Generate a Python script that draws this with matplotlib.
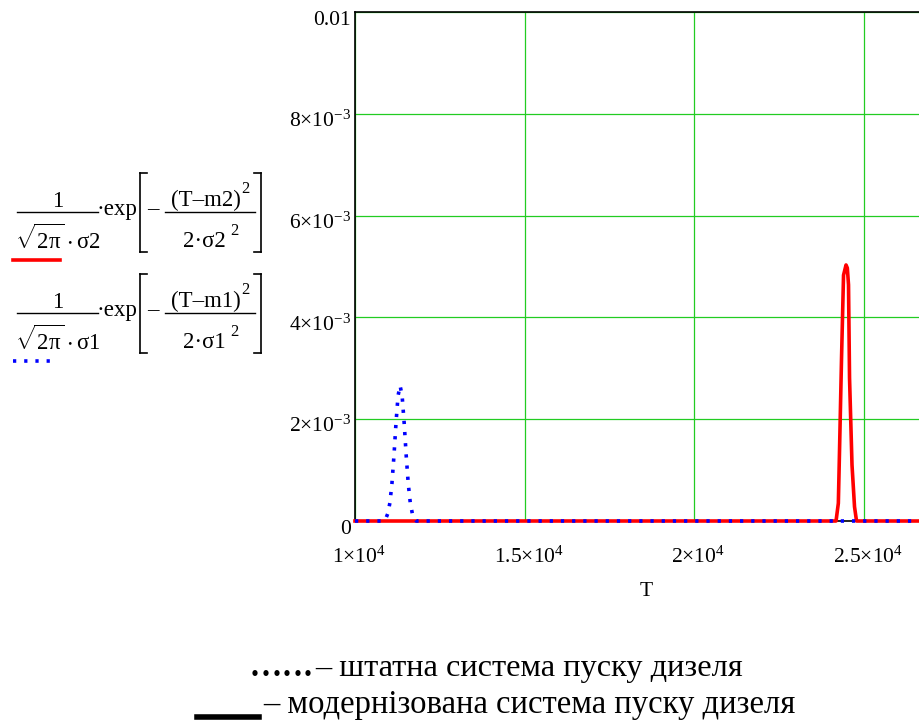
import matplotlib
matplotlib.use("Agg")
import matplotlib.pyplot as plt
import matplotlib.transforms as mtransforms

plt.rcParams['font.family'] = ['Liberation Serif', 'DejaVu Serif']
plt.rcParams['mathtext.fontset'] = 'custom'
plt.rcParams['mathtext.rm'] = 'Liberation Serif'
plt.rcParams['mathtext.it'] = 'Liberation Serif'
plt.rcParams['mathtext.default'] = 'regular'

# --- Data (T, density)
T_red = [10000, 24190, 24258, 24293, 24352, 24411, 24485, 24523, 24558, 24588, 24661, 24735, 24794, 27000]
d_red = [0.0, 0.0, 0.00035, 0.00139, 0.00320, 0.00483, 0.00503, 0.00497, 0.00464, 0.00281, 0.00110, 0.00028, 0.0, 0.0]

T_blue = [10000, 10850, 10910, 10970, 11030, 11090, 11150, 11210, 11270, 11330,
          11390, 11450, 11510, 11570, 11630, 11690, 11750, 11810, 27000]
d_blue = [0.0, 0.0, 0.00005, 0.00015, 0.00036, 0.00074, 0.00129, 0.00193, 0.00246, 0.00266,
          0.00246, 0.00193, 0.00129, 0.00074, 0.00036, 0.00015, 0.00005, 0.0, 0.0]

x_ticks = [10000, 15000, 20000, 25000]
x_labels = ['1×10$^{4}$', '1.5×10$^{4}$', '2×10$^{4}$', '2.5×10$^{4}$']
y_ticks = [0, 0.002, 0.004, 0.006, 0.008, 0.01]
y_labels = ['0', '2×10$^{-3}$', '4×10$^{-3}$', '6×10$^{-3}$', '8×10$^{-3}$', '0.01']

caption1 = '– штатна система пуску дизеля'
caption2 = '– модернізована система пуску дизеля'

W, H = 920, 722
fig = plt.figure(figsize=(W / 100, H / 100), dpi=100)
ax = fig.add_axes([355 / W, (H - 521) / H, (W - 355) / W, 509 / H])


def px(x, y):
    return x / W, 1 - y / H


ax.plot(T_red, d_red, color='#ff0000', lw=2.6, zorder=3, clip_on=False)
ax.plot(T_blue, d_blue, color='#0000ff', lw=2.6, linestyle=(0, (0.9, 2.2)), zorder=4, clip_on=False)

ax.set_xlim(10000, 10000 + 565 * 5000 / 169.5)
ax.set_ylim(0, 0.01)
ax.set_xticks(x_ticks)
ax.set_yticks(y_ticks)
ax.set_xticklabels([])
ax.set_yticklabels([])
ax.tick_params(length=0)
ax.grid(True, color='#22cc22', lw=0.9)
ax.set_axisbelow(True)
ax.spines['right'].set_visible(False)
for s in ['left', 'top', 'bottom']:
    ax.spines[s].set_color('black')
    ax.spines[s].set_linewidth(1.2)

# tick labels Mathcad style: top of the digits at the tick
ytr = ax.get_yaxis_transform() + mtransforms.ScaledTranslation(-4 / 100, -13 / 100, fig.dpi_scale_trans)
for v, lab in zip(y_ticks, y_labels):
    ax.text(0, v, lab, transform=ytr, fontsize=15.5, ha='right', va='baseline')
xtr = ax.get_xaxis_transform() + mtransforms.ScaledTranslation(4 / 100, -42 / 100, fig.dpi_scale_trans)
for v, lab in zip(x_ticks, x_labels):
    ax.text(v, 0, lab, transform=xtr, fontsize=15.5, ha='center', va='baseline')

ax.set_xlabel('T', fontsize=15.5, va='center')
ax.xaxis.set_label_coords((646 - 355) / 565, (521 - 591) / 509)


# --- formula legend on the left (Mathcad expression)
def formula(dy, k):
    fs = 16.5
    fig.text(*px(58, 207 + dy), '1', fontsize=fs, ha='center', va='baseline')
    fig.add_artist(plt.Line2D(*zip(px(17, 212 + dy), px(98, 212 + dy)), color='black', lw=1))
    fig.text(*px(58, 249 + dy), r'$\sqrt{2\pi}\cdot\sigma%s$' % k, fontsize=fs, ha='center', va='baseline')
    fig.text(*px(97, 215 + dy), '·exp', fontsize=fs, ha='left', va='baseline')
    # brackets
    for xb, xt in [(140, 147), (261, 254)]:
        fig.add_artist(plt.Line2D(*zip(px(xb, 173 + dy), px(xb, 252 + dy)), color='black', lw=1.2))
        fig.add_artist(plt.Line2D(*zip(px(xb, 173 + dy), px(xt, 173 + dy)), color='black', lw=1.2))
        fig.add_artist(plt.Line2D(*zip(px(xb, 252 + dy), px(xt, 252 + dy)), color='black', lw=1.2))
    fig.text(*px(153, 215 + dy), '–', fontsize=fs, ha='center', va='baseline')
    fig.text(*px(206, 206 + dy), '(T–m%s)' % k, fontsize=fs, ha='center', va='baseline')
    fig.text(*px(245, 193 + dy), '2', fontsize=12, ha='center', va='baseline')
    fig.add_artist(plt.Line2D(*zip(px(165, 212 + dy), px(255, 212 + dy)), color='black', lw=1))
    fig.text(*px(204, 247 + dy), '2·σ%s' % k, fontsize=fs, ha='center', va='baseline')
    fig.text(*px(234, 235 + dy), '2', fontsize=12, ha='center', va='baseline')


formula(0, '2')
formula(101, '1')
fig.add_artist(plt.Line2D(*zip(px(13, 260), px(60, 260)), color='#ff0000', lw=2.6))
fig.add_artist(plt.Line2D(*zip(px(13, 361), px(52, 361)), color='#0000ff', lw=2.6,
                          linestyle=(0, (0.9, 2.2))))

# --- caption at the bottom
for i in range(6):
    fig.text(*px(251 + 10.6 * i, 676), '.', fontsize=23.5, fontweight='bold', ha='left', va='baseline')
fig.text(*px(315, 676), caption1, fontsize=23.3, ha='left', va='baseline')
fig.add_artist(plt.Line2D(*zip(px(197, 717), px(259, 717)), color='black', lw=4))
fig.text(*px(263, 713), caption2, fontsize=23.5, ha='left', va='baseline')

fig.savefig('out.png', dpi=100)
